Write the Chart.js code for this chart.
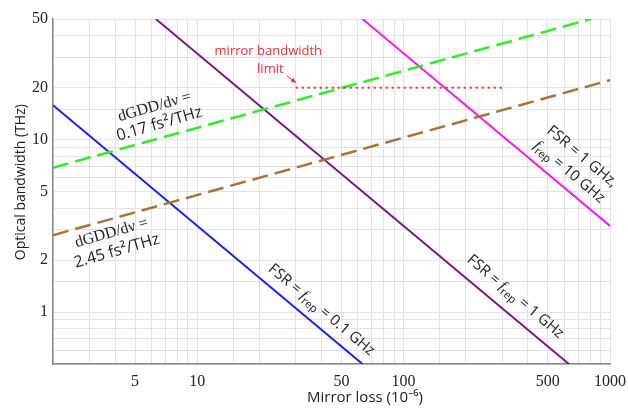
<!DOCTYPE html>
<html>
<head>
<meta charset="utf-8">
<script src="https://cdn.jsdelivr.net/npm/chart.js@4/dist/chart.umd.min.js"></script>
<style>
  html, body { margin: 0; padding: 0; background: #fff; }
</style>
</head>
<body>
<canvas id="myChart" width="628" height="408"></canvas>
<script>
// values: mirror loss (1e-6) vs optical bandwidth (THz)
const blueX = [2, 63.2]
const blueY = [15.8, 0.5]
const purpleX = [6.3, 632]
const purpleY = [50, 0.5]
const magentaX = [63.2, 1000]
const magentaY = [50, 3.16]
const greenX = [2, 810]
const greenY = [6.87, 50]
const brownX = [2, 1000]
const brownY = [2.79, 22.1]
const limitX = [30, 300]
const limitY = [20, 20]

const xTickLabels = [5, 10, 50, 100, 500, 1000]
const yTickLabels = [1, 2, 5, 10, 20, 50]

const xTitle = 'Mirror loss (10\u207b\u2076)'
const yTitle = 'Optical bandwidth (THz)'

const SERIF = '"Liberation Serif", "DejaVu Serif", serif'
const SANS = '"Open Sans", "Noto Sans", sans-serif'

const pts = (xs, ys) => xs.map((x, i) => ({ x: x, y: ys[i] }))
const hasTick = (list, v) => list.some(t => Math.abs(t - v) / t < 1e-6)

// text notes placed in data coordinates
const notes = [
  { x: 6.38, y: 13.8, angle: -16, size: 16, lh: 18, color: '#222',
    lines: [[{ t: 'dGDD/d\u03bd =', f: 'serif' }], [{ t: '0.17 fs\u00b2/THz' }]] },
  { x: 3.96, y: 2.55, angle: -16, size: 16, lh: 19, color: '#222',
    lines: [[{ t: 'dGDD/d\u03bd =', f: 'serif' }], [{ t: '2.45 fs\u00b2/THz' }]] },
  { x: 40, y: 1.03, angle: 40, size: 15, lh: 18, color: '#222',
    lines: [[{ t: 'FSR = ' }, { t: 'f', f: 'serif', i: true }, { t: 'rep', sub: true }, { t: ' = 0.1 GHz' }]] },
  { x: 348, y: 1.23, angle: 40, size: 15, lh: 18, color: '#222',
    lines: [[{ t: 'FSR = ' }, { t: 'f', f: 'serif', i: true }, { t: 'rep', sub: true }, { t: ' = 1 GHz' }]] },
  { x: 681, y: 7.19, angle: 40, size: 15, lh: 20, color: '#222',
    lines: [[{ t: 'FSR = 1 GHz,' }], [{ t: 'f', f: 'serif', i: true }, { t: 'rep', sub: true }, { t: ' = 10 GHz' }]] },
  { x: 22.1, y: 32.6, angle: 0, size: 13, lh: 17, color: '#e53030',
    lines: [[{ t: 'mirror bandwidth' }]] },
  { x: 22.6, y: 25.6, angle: 0, size: 13, lh: 17, color: '#e53030',
    lines: [[{ t: 'limit' }]] }
]
const arrowFrom = { x: 27.2, y: 23.4 }
const arrowTo = { x: 30.2, y: 21.3 }

function segFont(seg, size) {
  const s = seg.sub ? Math.round(size * 0.72) : size
  return (seg.i ? 'italic ' : '') + s + 'px ' + (seg.f === 'serif' ? SERIF : SANS)
}

const notesPlugin = {
  id: 'notes',
  afterDatasetsDraw(chart) {
    const ctx = chart.ctx
    const xs = chart.scales.x, ys = chart.scales.y
    ctx.save()
    ctx.textBaseline = 'middle'
    ctx.textAlign = 'left'
    notes.forEach(n => {
      const px = xs.getPixelForValue(n.x), py = ys.getPixelForValue(n.y)
      ctx.save()
      ctx.translate(px, py)
      ctx.rotate(n.angle * Math.PI / 180)
      ctx.fillStyle = n.color
      const top = -(n.lines.length - 1) * n.lh / 2
      n.lines.forEach((line, li) => {
        let w = 0
        line.forEach(seg => { ctx.font = segFont(seg, n.size); w += ctx.measureText(seg.t).width })
        let cx = -w / 2
        const cy = top + li * n.lh
        line.forEach(seg => {
          ctx.font = segFont(seg, n.size)
          ctx.fillText(seg.t, cx, cy + (seg.sub ? n.size * 0.3 : 0))
          cx += ctx.measureText(seg.t).width
        })
      })
      ctx.restore()
    })
    // arrow to the limit line
    const x0 = xs.getPixelForValue(arrowFrom.x), y0 = ys.getPixelForValue(arrowFrom.y)
    const x1 = xs.getPixelForValue(arrowTo.x), y1 = ys.getPixelForValue(arrowTo.y)
    const a = Math.atan2(y1 - y0, x1 - x0)
    ctx.strokeStyle = '#e53030'
    ctx.fillStyle = '#e53030'
    ctx.lineWidth = 1
    ctx.beginPath(); ctx.moveTo(x0, y0); ctx.lineTo(x1, y1); ctx.stroke()
    ctx.beginPath()
    ctx.moveTo(x1, y1)
    ctx.lineTo(x1 - 6 * Math.cos(a - 0.4), y1 - 6 * Math.sin(a - 0.4))
    ctx.lineTo(x1 - 6 * Math.cos(a + 0.4), y1 - 6 * Math.sin(a + 0.4))
    ctx.closePath(); ctx.fill()

    // axis titles (the original sits them a little off-centre)
    const area = chart.chartArea
    ctx.fillStyle = '#222'
    ctx.textAlign = 'center'
    ctx.font = '15px ' + SANS
    ctx.fillText(xTitle, area.left + (area.right - area.left) * 0.56, chart.height - 10)
    ctx.save()
    ctx.translate(21, area.top + (area.bottom - area.top) * 0.473)
    ctx.rotate(-Math.PI / 2)
    ctx.font = '14px ' + SANS
    ctx.fillText(yTitle, 0, 0)
    ctx.restore()
    ctx.restore()
  }
}

const line = (data, color, width, dash) => ({
  data: data, borderColor: color, borderWidth: width, borderDash: dash || [],
  pointRadius: 0, fill: false, tension: 0
})

const ctx = document.getElementById('myChart').getContext('2d')
const myChart = new Chart(ctx, {
  type: 'line',
  data: {
    datasets: [
      line(pts(limitX, limitY), '#e53030', 2, [2, 4]),
      line(pts(brownX, brownY), '#a8733c', 2.5, [16, 7]),
      line(pts(greenX, greenY), '#33ee22', 2.5, [16, 7]),
      line(pts(blueX, blueY), '#1a22e6', 2),
      line(pts(purpleX, purpleY), '#7a1a80', 2),
      line(pts(magentaX, magentaY), '#f01ef0', 2)
    ]
  },
  options: {
    responsive: false,
    animation: false,
    layout: { padding: { left: 0, right: 18, top: 19, bottom: 0 } },
    plugins: { legend: { display: false }, tooltip: { enabled: false } },
    scales: {
      x: {
        type: 'logarithmic', min: 2, max: 1000,
        afterFit: s => { s.height = 44; s.paddingLeft = 0; s.paddingRight = 0 },
        grid: { color: '#e2e2e2', lineWidth: 1, drawTicks: false },
        border: { color: '#888', width: 1.5 },
        ticks: {
          autoSkip: false, maxRotation: 0, padding: 8, color: '#222',
          font: { family: SERIF, size: 16 },
          callback: v => hasTick(xTickLabels, v) ? String(v) : ''
        }
      },
      y: {
        type: 'logarithmic', min: 0.5, max: 50,
        afterFit: s => { s.width = 53; s.paddingTop = 0; s.paddingBottom = 0 },
        grid: { color: '#e2e2e2', lineWidth: 1, drawTicks: false },
        border: { color: '#888', width: 1.5 },
        ticks: {
          autoSkip: false, padding: 5, color: '#222',
          font: { family: SERIF, size: 16 },
          callback: v => hasTick(yTickLabels, v) ? String(v) : ''
        }
      }
    }
  },
  plugins: [notesPlugin]
})
</script>
</body>
</html>
